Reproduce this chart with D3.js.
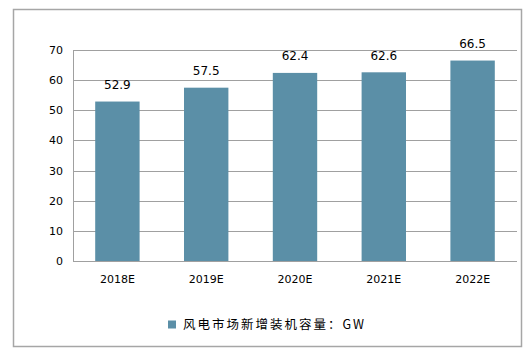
<!DOCTYPE html>
<html><head><meta charset="utf-8">
<script src="https://cdn.jsdelivr.net/npm/d3@7"></script>
<style>body{margin:0;background:#fff}svg{display:block}</style>
</head><body>
<svg id="c" width="530" height="356"></svg>
<script>
const categories = ["2018E","2019E","2020E","2021E","2022E"];
const values = [52.9, 57.5, 62.4, 62.6, 66.5];
const yTicks = [0,10,20,30,40,50,60,70];
const seriesName = "风电市场新增装机容量：GW";

const svg = d3.select("#c");
const font = "'DejaVu Sans', Tahoma, sans-serif";
svg.append("rect").attr("x",13.5).attr("y",9.5).attr("width",508).attr("height",337)
  .attr("fill","#fff").attr("stroke","#a6a6a6").attr("stroke-width",1.5);

const m = {l:73, r:517, t:50, b:261};
const x = d3.scaleBand().domain(categories).range([m.l,m.r]).paddingInner(0.5).paddingOuter(0.25);
const y = d3.scaleLinear().domain([0,70]).range([m.b,m.t]);

const grid = svg.append("g");
grid.selectAll("line").data(yTicks).join("line")
  .attr("x1",m.l).attr("x2",m.r)
  .attr("y1",d=>Math.round(y(d))+0.5).attr("y2",d=>Math.round(y(d))+0.5)
  .attr("stroke","#a0a0a0").attr("stroke-width",1);
svg.append("line").attr("x1",m.l+0.5).attr("x2",m.l+0.5).attr("y1",m.t).attr("y2",m.b)
  .attr("stroke","#a0a0a0");

const yAxis = svg.append("g").attr("transform",`translate(${m.l},0)`)
  .call(d3.axisLeft(y).tickValues(yTicks).tickSize(0).tickPadding(10));
yAxis.select(".domain").remove();
yAxis.selectAll("text").attr("font-family",font).attr("font-size",11).attr("fill","#000");

const xAxis = svg.append("g").attr("transform",`translate(0,${m.b})`)
  .call(d3.axisBottom(x).tickSize(0).tickPadding(14));
xAxis.select(".domain").remove();
xAxis.selectAll("text").attr("font-family",font).attr("font-size",11).attr("fill","#000");

svg.append("g").selectAll("rect").data(values).join("rect")
  .attr("x",(d,i)=>x(categories[i])).attr("width",x.bandwidth())
  .attr("y",d=>y(d)).attr("height",d=>y(0)-y(d))
  .attr("fill","#5b8fa7");

svg.append("g").selectAll("text").data(values).join("text")
  .attr("x",(d,i)=>x(categories[i])+x.bandwidth()/2)
  .attr("y",d=>y(d)-12.5)
  .attr("text-anchor","middle").attr("font-family",font).attr("font-size",12).attr("fill","#000")
  .text(d=>d.toFixed(1));

const lg = svg.append("g");
lg.append("rect").attr("x",168).attr("y",320.5).attr("width",8).attr("height",8).attr("fill","#5b8fa7");
lg.append("text").attr("x",183).attr("y",329).attr("font-family","'Noto Sans CJK SC', sans-serif")
  .attr("font-size",12.5).attr("letter-spacing",2).attr("fill","#000").text(seriesName);
</script>
</body></html>
